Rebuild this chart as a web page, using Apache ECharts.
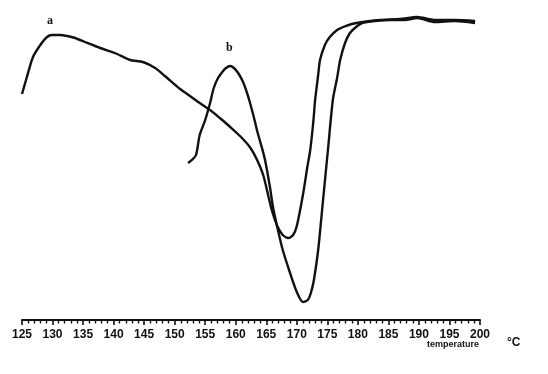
<!DOCTYPE html>
<html><head><meta charset="utf-8">
<script src="https://cdn.jsdelivr.net/npm/echarts@6/dist/echarts.min.js"></script>
<style>html,body{margin:0;padding:0;background:#fff}#c{width:548px;height:374px}</style>
</head><body><div id="c"></div>
<script>
// Temperature (°C) and heat flow (arbitrary units, endotherm down)
const tempA = [125.0,125.8,126.8,128.0,129.1,129.9,131.2,132.4,133.7,135.3,137.8,140.2,142.7,144.8,146.8,148.4,150.9,152.5,154.1,155.8,157.4,159.1,160.7,162.3,163.5,164.5,165.3,165.9,166.8,167.7,168.6,169.4,170.0,171.0,171.7,172.2,172.7,173.0,173.5,173.8,174.6,175.4,176.6,177.6,179.0,180.8,183.6,186.9,189.7,192.6,195.9,199.2];
const flowA = [226,243,263,275,283,285,285,284,282,278,272,267,260,258,252,244,231,224,217,210,202,193,184,173,160,145,125,110,94,85,82,85,94,125,152,170,198,220,245,260,275,283,290,293,296,298,300,301,303,300,300,299];
const tempB = [152.2,152.8,153.5,154.1,155.0,155.8,156.4,157.1,157.8,158.4,159.1,159.7,160.4,161.2,161.8,162.3,163.0,163.6,164.3,164.8,165.6,166.1,166.8,167.7,168.9,170.0,171.0,171.8,172.3,172.8,173.5,174.3,175.1,175.9,176.6,177.1,177.9,178.7,179.7,180.7,182.8,185.3,187.7,189.7,192.6,195.9,199.2];
const flowB = [157,160,165,185,200,217,232,242,248,252,254,252,247,238,228,218,202,187,172,160,133,113,93,70,47,28,18,20,27,40,70,120,170,220,242,260,277,287,293,297,299,300,300,302,298,299,297];
const curveLabels = ['a','b'];
const xTicks = [125,130,135,140,145,150,155,160,165,170,175,180,185,190,195,200];

const chart = echarts.init(document.getElementById('c'));
const zip = (xs, ys) => xs.map((x, i) => [x, ys[i]]);
chart.setOption({
  animation: false,
  backgroundColor: '#fff',
  grid: {left: 22, right: 68, top: 0, bottom: 54},
  xAxis: {
    type: 'value', min: 125, max: 200, interval: 5,
    axisLine: {show: true, lineStyle: {color: '#111', width: 2}},
    axisTick: {show: true, inside: false, length: 5, lineStyle: {color: '#111', width: 1.6}},
    minorTick: {show: true, splitNumber: 5, length: 3.5, lineStyle: {color: '#111', width: 1.4}},
    splitLine: {show: false},
    axisLabel: {color: '#111', fontFamily: 'Liberation Sans Narrow, Liberation Sans, sans-serif', fontWeight: 'bold', fontSize: 12, margin: 9,
      formatter: v => xTicks.includes(v) ? String(v) : ''}
  },
  yAxis: {type: 'value', min: 0, max: 320, show: false},
  series: [
    {type: 'line', data: zip(tempA, flowA), showSymbol: false, smooth: 0.25,
     lineStyle: {color: '#111', width: 2.4}},
    {type: 'line', data: zip(tempB, flowB), showSymbol: false, smooth: 0.25,
     lineStyle: {color: '#111', width: 2.4}}
  ],
  graphic: [
    {type: 'text', left: 47, top: 15, style: {text: curveLabels[0], font: 'bold 12px "Liberation Serif", serif', fill: '#111'}},
    {type: 'text', left: 226, top: 42, style: {text: curveLabels[1], font: 'bold 12px "Liberation Serif", serif', fill: '#111'}},
    {type: 'text', left: 427, top: 340, style: {text: 'temperature', font: 'bold 9px "Liberation Sans Narrow", "Liberation Sans", sans-serif', fill: '#111'}},
    {type: 'text', left: 507, top: 337, style: {text: '°C', font: 'bold 12px "Liberation Sans", sans-serif', fill: '#111'}}
  ]
});
</script></body></html>
